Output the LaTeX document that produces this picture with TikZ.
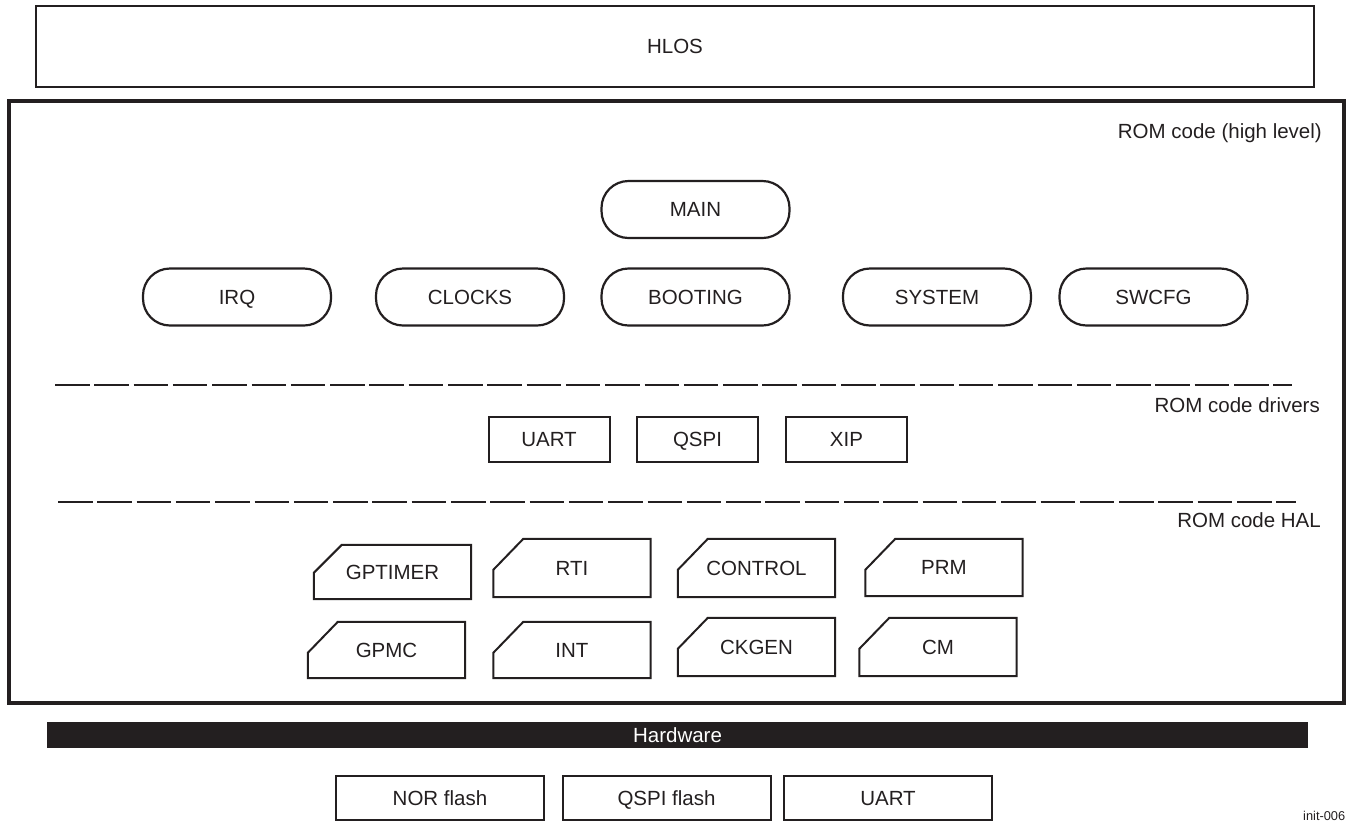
\documentclass[tikz,border=0pt]{standalone}
\usepackage{fontspec}
\setmainfont{Liberation Sans}
\definecolor{ink}{HTML}{231F20}
\begin{document}
\begin{tikzpicture}[x=1pt,y=-1pt,
  font=\fontsize{20.5}{24}\selectfont, text=ink,
  every node/.append style={text height=14.7pt, text depth=0pt},
  pill/.style={draw=ink, line width=2.2pt, rounded corners=27pt, minimum width=188pt, minimum height=57pt, inner sep=0pt},
  drvbox/.style={draw=ink, line width=2pt, minimum width=121pt, minimum height=45pt, inner sep=0pt},
  halbox/.style={minimum width=157pt, minimum height=57pt, inner sep=0pt},
  halline/.style={draw=ink, line width=2pt, line join=miter},
  flashbox/.style={draw=ink, line width=2pt, minimum width=208pt, minimum height=44pt, inner sep=0pt},
  layerline/.style={draw=ink, line width=2.5pt, dash pattern=on 34.5pt off 4.8pt},
  layerlabel/.style={anchor=east, inner sep=0pt}
]
\useasboundingbox (0,0) rectangle (1348,823);

% HLOS
\node[draw=ink, line width=2.7pt, minimum width=1278pt, minimum height=81pt, inner sep=0pt] (hlos) at (675,46.5) {HLOS};

% ROM code frame
\node[draw=ink, line width=3.5pt, minimum width=1335pt, minimum height=602pt, inner sep=0pt] (rom) at (676.5,402) {};
\node[layerlabel] (lhigh) at (1322,131) {ROM code (high level)};

% high level modules
\node[pill] (main) at (695.5,209.5) {MAIN};
\node[pill] (irq) at (237,297) {IRQ};
\node[pill] (clocks) at (470,297) {CLOCKS};
\node[pill] (booting) at (695.5,297) {BOOTING};
\node[pill] (system) at (937,297) {SYSTEM};
\node[pill] (swcfg) at (1153.5,297) {SWCFG};

% layer separator 1
\coordinate (d1a) at (55,385);
\coordinate (d1b) at (1292,385);
\draw[layerline] (d1a) -- (d1b);
\node[layerlabel] (ldrv) at (1320,405) {ROM code drivers};

% drivers
\node[drvbox] (uart) at (549,439.5) {UART};
\node[drvbox] (qspi) at (697.5,439.5) {QSPI};
\node[drvbox] (xip) at (846.5,439.5) {XIP};

% layer separator 2
\coordinate (d2a) at (58,502);
\coordinate (d2b) at (1296,502);
\draw[layerline] (d2a) -- (d2b);
\node[layerlabel] (lhal) at (1321,520) {ROM code HAL};

% HAL modules
\node[halbox, minimum height=54pt] (gptimer) at (392.5,572) {GPTIMER};
\node[halbox, minimum height=58pt] (rti) at (572,568) {RTI};
\node[halbox, minimum height=58pt] (control) at (756.5,568) {CONTROL};
\node[halbox, minimum height=57pt] (prm) at (944,567.5) {PRM};
\node[halbox, minimum height=56pt] (gpmc) at (386.5,650) {GPMC};
\node[halbox, minimum height=56pt] (int) at (572,650) {INT};
\node[halbox, minimum height=58pt] (ckgen) at (756.5,647) {CKGEN};
\node[halbox, minimum height=58pt] (cm) at (938,647) {CM};

\draw[halline] ([xshift=28pt]gptimer.north west) -- (gptimer.north east) -- (gptimer.south east) -- (gptimer.south west) -- ([yshift=-28pt]gptimer.north west) -- cycle;
\foreach \n in {rti,control,prm,gpmc,int,ckgen,cm}{
  \draw[halline] ([xshift=30pt]\n.north west) -- (\n.north east) -- (\n.south east) -- (\n.south west) -- ([yshift=-31pt]\n.north west) -- cycle;
}

% Hardware bar
\node[fill=ink, text=white, minimum width=1261pt, minimum height=26pt, inner sep=0pt] (hw) at (677.5,735) {Hardware};

% Hardware devices
\node[flashbox] (nor) at (440,798) {NOR flash};
\node[flashbox] (qspiflash) at (666.5,798) {QSPI flash};
\node[flashbox] (uarthw) at (888,798) {UART};

% figure id
\node[anchor=base west, inner sep=0pt, font=\fontsize{12.8}{14}\selectfont] (figid) at (1303,820.5) {init-006};
\end{tikzpicture}
\end{document}
